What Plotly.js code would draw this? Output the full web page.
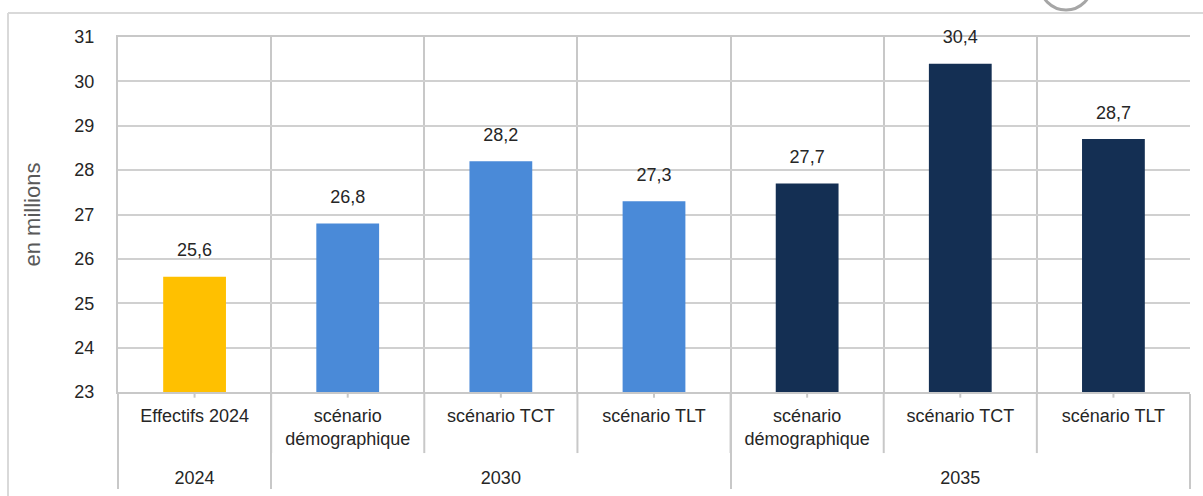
<!DOCTYPE html>
<html>
<head>
<meta charset="utf-8">
<script src="https://cdn.plot.ly/plotly-3.0.1.min.js"></script>
<style>html,body{margin:0;padding:0;background:#fff;}#chart{width:1203px;height:496px;}</style>
</head>
<body>
<div id="chart"></div>
<script>
var groups = ["<br>2024", "<br>2030", "<br>2030", "<br>2030", "<br>2035", "<br>2035", "<br>2035"];
var categories = ["Effectifs 2024", "scénario<br>démographique", "scénario TCT", "scénario TLT", "scénario<br>démographique", "scénario TCT", "scénario TLT"];
var values = [25.6, 26.8, 28.2, 27.3, 27.7, 30.4, 28.7];
var barColors = ["#FFC000", "#4A8AD8", "#4A8AD8", "#4A8AD8", "#142F53", "#142F53", "#142F53"];
var yTicks = [23, 24, 25, 26, 27, 28, 29, 30, 31];

var FONT = "Liberation Sans, Arial, sans-serif";
var n = categories.length;

var shapes = [];
for (var k = 1; k < n; k++) {
  shapes.push({type: "line", xref: "paper", yref: "paper", x0: k / n, x1: k / n, y0: 0, y1: -0.172,
    line: {color: "#C8C8C8", width: 2}});
}
for (var k = 0; k < n; k++) {
  shapes.push({type: "line", xref: "paper", yref: "paper", x0: (k + 0.5) / n, x1: (k + 0.5) / n, y0: 0, y1: -0.016,
    line: {color: "#C8C8C8", width: 2}});
}
shapes.push({type: "line", xref: "paper", yref: "paper", x0: -0.1026, x1: 1.02, y0: 1.0676, y1: 1.0676, line: {color: "#D9D9D9", width: 2}});
shapes.push({type: "line", xref: "paper", yref: "paper", x0: -0.1026, x1: -0.1026, y0: 1.0676, y1: -0.3, line: {color: "#D9D9D9", width: 2}});
shapes.push({type: "circle", xref: "paper", yref: "paper", x0: (1040 - 118) / 1072, x1: (1092 - 118) / 1072, y0: 1 + (37 - 10) / 355, y1: 1 + (37 + 42) / 355,
  line: {color: "#A6A6A6", width: 3}});

var data = [
  {
    type: "bar",
    x: [groups, categories],
    y: values,
    marker: {color: barColors},
    width: 0.41,
    hoverinfo: "skip"
  },
  {
    type: "scatter",
    mode: "markers+text",
    x: [groups, categories],
    y: values,
    text: values.map(function (v) { return v.toFixed(1).replace(".", ","); }),
    textposition: "top center",
    textfont: {family: FONT, size: 18, color: "#262626"},
    marker: {size: 24, opacity: 0},
    hoverinfo: "skip",
    cliponaxis: false
  }
];

var layout = {
  width: 1203,
  height: 496,
  margin: {l: 118, r: 13, t: 37, b: 104},
  paper_bgcolor: "#FFFFFF",
  plot_bgcolor: "#FFFFFF",
  showlegend: false,
  separators: ", ",
  font: {family: FONT, size: 18, color: "#262626"},
  xaxis: {
    type: "multicategory",
    tickson: "boundaries",
    layer: "below traces",
    showgrid: true,
    gridcolor: "#C8C8C8",
    gridwidth: 2,
    showline: true,
    linecolor: "#C8C8C8",
    linewidth: 2,
    mirror: true,
    ticks: "",
    ticklabelstandoff: 6,
    showdividers: true,
    dividercolor: "#C8C8C8",
    dividerwidth: 2,
    tickfont: {family: FONT, size: 18, color: "#262626"},
    zeroline: false
  },
  yaxis: {
    range: [23, 31],
    tickvals: yTicks,
    ticktext: yTicks.map(String),
    layer: "below traces",
    showgrid: true,
    gridcolor: "#D0D0D0",
    gridwidth: 2,
    zeroline: false,
    showline: true,
    linecolor: "#C8C8C8",
    linewidth: 2,
    ticks: "",
    ticklabelstandoff: 18,
    tickfont: {family: FONT, size: 18, color: "#262626"},
    title: {text: "en millions", font: {family: FONT, size: 22, color: "#595959"}, standoff: 28}
  },
  shapes: shapes
};

Plotly.newPlot("chart", data, layout, {displayModeBar: false, staticPlot: true});
</script>
</body>
</html>
